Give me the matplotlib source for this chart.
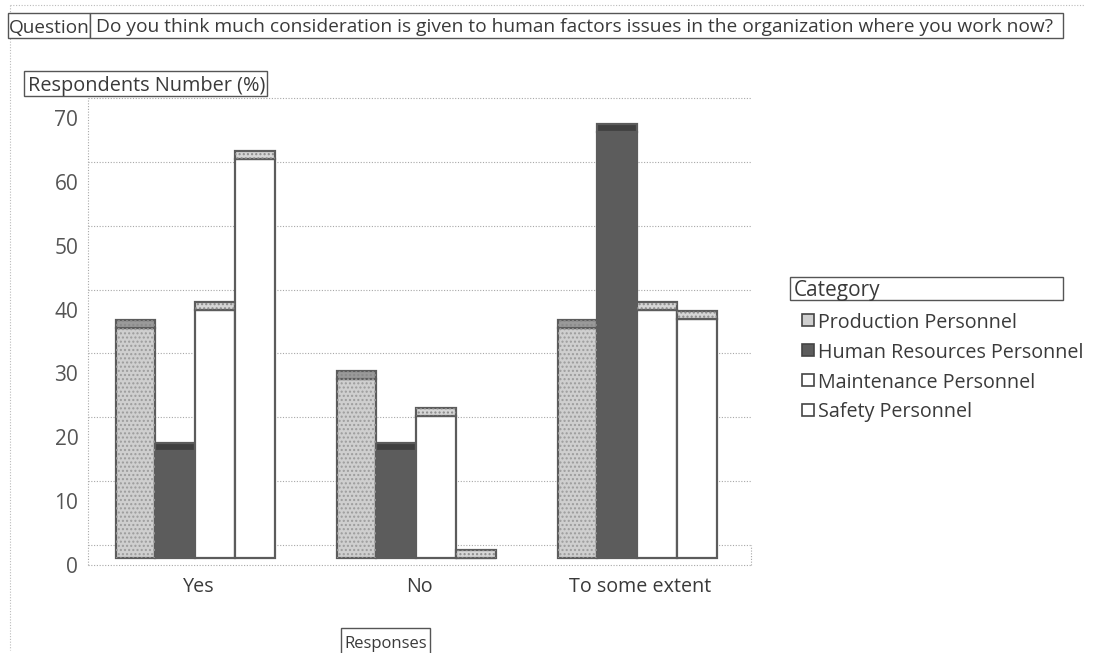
import numpy as np
import matplotlib
matplotlib.use("Agg")
import matplotlib.pyplot as plt
from matplotlib.patches import Rectangle
from matplotlib.transforms import offset_copy

# data (percent of respondents per personnel category)
responses = ["Yes", "No", "To some extent"]
series = ["Production Personnel", "Human Resources Personnel",
          "Maintenance Personnel", "Safety Personnel"]
production = [36.0, 28.0, 36.0]
human_res = [16.7, 16.7, 66.7]
maintenance = [38.9, 22.2, 38.9]
safety = [62.5, 0.0, 37.5]
yticks = [0, 10, 20, 30, 40, 50, 60, 70]

question = "Do you think much consideration is given to human factors issues in the organization where you work now?"

plt.rcParams['font.family'] = ['Open Sans', 'DejaVu Sans']
TXT = "#3a3a3a"
EDGE = "#5c5c5c"

# look of each series: body face, body hatch, cap face, cap hatch
styles = [
    ("#cfcfcf", "....", "#9a9a9a", "...."),
    ("#5c5c5c", "", "#404040", ""),
    ("#ffffff", "", "#d6d6d6", "...."),
    ("#ffffff", "", "#d6d6d6", "...."),
]

W, H = 1093, 653
fig = plt.figure(figsize=(W / 100, H / 100), dpi=100)
renderer = fig.canvas.get_renderer()


def fx(px):
    return px / W


def fy(py):
    return 1 - py / H


def fit(t, target_px):
    # scale font so the text spans roughly the width seen in the original
    w = t.get_window_extent(renderer).width
    t.set_fontsize(t.get_fontsize() * target_px / w)


ax = fig.add_axes([fx(88), fy(565), fx(751) - fx(88), fy(118) - fy(565)])
ax.set_xlim(-0.5, 2.5)
ax.set_ylim(0, 70)
for s in ax.spines.values():
    s.set_visible(False)

# pseudo 3D: back wall shifted up, bars sit a bit behind the front plane
grid_kw = dict(colors="#a8a8a8", linestyles=(0, (1, 1.5)), linewidth=0.8,
               clip_on=False, zorder=0)
back = offset_copy(ax.transData, fig=fig, x=0, y=20, units='dots')
ax.hlines(yticks, -0.5, 2.5, transform=back, **grid_kw)
ax.hlines([0], -0.5, 2.5, **grid_kw)
ax.vlines([-0.5], 0, 73.1, **grid_kw)
ax.vlines([2.5], 0, 3.1, **grid_kw)

BASE = 1.1   # bar floor above front edge
CAP = 1.25   # visible top face
bw = 0.18
x = np.arange(len(responses))
all_vals = [production, human_res, maintenance, safety]
for j, vals in enumerate(all_vals):
    vals = np.array(vals)
    face, hatch, capface, caphatch = styles[j]
    xs = x + (j - 1.5) * bw - 0.015
    ax.bar(xs, vals, bw, bottom=BASE, color=face, edgecolor=EDGE,
           linewidth=1.6, zorder=3)
    if hatch:
        ax.bar(xs, vals, bw, bottom=BASE, fill=False, hatch=hatch,
               edgecolor="#9c9c9c", linewidth=0, zorder=4)
    ax.bar(xs, [CAP] * len(vals), bw, bottom=vals + BASE, color=capface,
           edgecolor=EDGE, linewidth=1.6, zorder=3)
    if caphatch:
        ax.bar(xs, [CAP] * len(vals), bw, bottom=vals + BASE, fill=False,
               hatch=caphatch, edgecolor="#8a8a8a", linewidth=0, zorder=4)

ax.set_yticks(yticks)
ax.set_yticklabels([str(v) for v in yticks], fontsize=15, color="#555555")
ax.set_xticks(x)
xl = ax.set_xticklabels(responses, fontsize=13, color=TXT)
ax.tick_params(axis='y', length=0, pad=7)
ax.tick_params(axis='x', length=0, pad=9)
fit(xl[2], 142)
for t in xl[:2]:
    t.set_fontsize(xl[2].get_fontsize())


def boxed(x0, y0, x1, y1, text, target=None, ha="left", pad=5, size=12):
    fig.patches.append(Rectangle((fx(x0), fy(y1)), fx(x1) - fx(x0), fy(y0) - fy(y1),
                                 transform=fig.transFigure, facecolor="white",
                                 edgecolor="#555555", linewidth=1, zorder=5))
    tx = fx(x0 + pad) if ha == "left" else fx((x0 + x1) / 2)
    t = fig.text(tx, fy((y0 + y1) / 2), text, ha=ha, va="center_baseline",
                 fontsize=size, color=TXT, zorder=6)
    if target:
        fit(t, target)
    return t


# outer chart frame (dotted)
fig.add_artist(plt.Line2D([fx(10), fx(1085)], [fy(5), fy(5)], transform=fig.transFigure,
                          color="#bbbbbb", linestyle=(0, (1, 1.5)), linewidth=0.8))
fig.add_artist(plt.Line2D([fx(10), fx(10)], [fy(5), fy(650)], transform=fig.transFigure,
                          color="#bbbbbb", linestyle=(0, (1, 1.5)), linewidth=0.8))

boxed(8, 13, 90, 38, "Question", 80, pad=1)
boxed(90, 13, 1063, 38, question, 955, pad=6)
boxed(24, 71, 267, 96, "Respondents Number (%)", 235, pad=4)
boxed(341, 628, 430, 656, "Responses", ha="center", size=12)

# legend
boxed(790, 277, 1063, 300, "Category", 86, pad=4)
lab = []
for i, name in enumerate(series):
    cy = 320 + 30 * i
    face = styles[i][0]
    fig.patches.append(Rectangle((fx(802), fy(cy + 6)), fx(12), fx(12) * W / H,
                                 transform=fig.transFigure, facecolor=face,
                                 edgecolor="#444444", linewidth=1.2))
    lab.append(fig.text(fx(818), fy(cy), name, ha="left", va="center_baseline",
                        fontsize=13, color=TXT))
fit(lab[1], 264)
for t in lab:
    t.set_fontsize(lab[1].get_fontsize())

fig.savefig("out.png", dpi=100)
